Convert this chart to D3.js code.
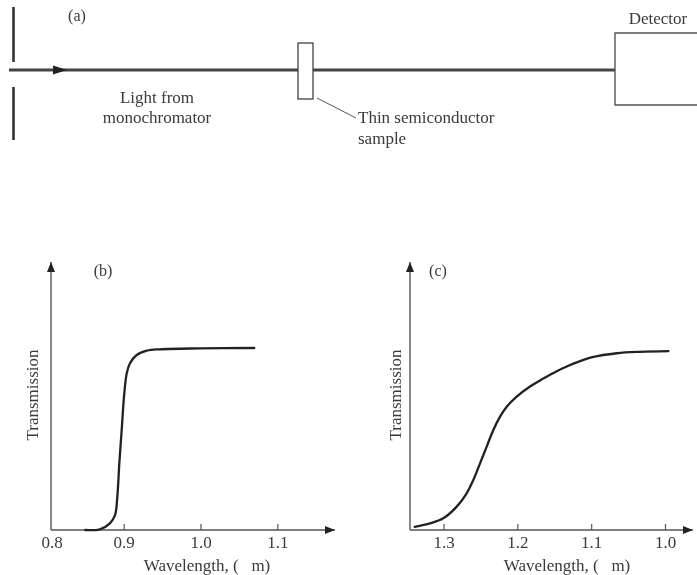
<!DOCTYPE html>
<html>
<head>
<meta charset="utf-8">
<script src="https://cdn.jsdelivr.net/npm/d3@7"></script>
<style>
  html, body { margin: 0; padding: 0; background: #fff; }
  svg { display: block; }
  text { font-family: "Liberation Serif", "DejaVu Serif", serif; fill: #3a3a3a; }
</style>
</head>
<body>
<svg id="fig" width="697" height="575"></svg>
<script>
// Panel (b): sharp absorption edge (wavelength µm, relative transmission)
const edgeB = [
  [0.850, 0.000], [0.869, 0.004], [0.882, 0.037], [0.8887, 0.083],
  [0.8917, 0.185], [0.8943, 0.370], [0.8974, 0.556], [0.9004, 0.741],
  [0.9039, 0.870], [0.9082, 0.926], [0.9169, 0.972], [0.930, 0.996],
  [0.947, 1.004], [1.000, 1.009], [1.070, 1.011]
];
// Panel (c): gradual edge, wavelength axis runs from long to short
const edgeC = [
  [1.339, 0.018], [1.3183, 0.037], [1.3003, 0.065], [1.2821, 0.130],
  [1.2686, 0.204], [1.2596, 0.278], [1.2505, 0.370], [1.2415, 0.463],
  [1.2325, 0.556], [1.2234, 0.630], [1.2144, 0.685], [1.2008, 0.741],
  [1.1828, 0.797], [1.1648, 0.841], [1.1466, 0.882], [1.1331, 0.908],
  [1.1195, 0.931], [1.0984, 0.960], [1.0653, 0.982], [1.0337, 0.990],
  [0.9954, 0.994]
];
const ticksB = [0.9, 1.0, 1.1];
const ticksC = [1.3, 1.2, 1.1, 1.0];
const originLabelB = "0.8";
const axisTitle = "Wavelength, (\u00a0\u00a0\u00a0m)";
const yTitle = "Transmission";

const svg = d3.select("#fig");
const axisInk = "#555";
const fs = 17;

const defs = svg.append("defs");
defs.append("marker").attr("id", "arr").attr("viewBox", "0 0 10 8")
  .attr("refX", 10).attr("refY", 4).attr("markerWidth", 10).attr("markerHeight", 8)
  .attr("markerUnits", "userSpaceOnUse").attr("orient", "auto")
  .append("path").attr("d", "M0,0 L10,4 L0,8 Z").attr("fill", "#222");

const soft = defs.append("filter").attr("id", "soft");
soft.append("feGaussianBlur").attr("stdDeviation", 0.35);

const root = svg.append("g").attr("filter", "url(#soft)");

// ---------------- (a) apparatus sketch ----------------
const a = root.append("g");
const beamY = 70;
// entrance slit
a.append("line").attr("x1", 13.5).attr("x2", 13.5).attr("y1", 7).attr("y2", 62)
  .attr("stroke", "#333").attr("stroke-width", 2.6);
a.append("line").attr("x1", 13.5).attr("x2", 13.5).attr("y1", 87).attr("y2", 140)
  .attr("stroke", "#333").attr("stroke-width", 2.6);
// light beam
a.append("line").attr("x1", 9).attr("x2", 615).attr("y1", beamY).attr("y2", beamY)
  .attr("stroke", "#444").attr("stroke-width", 2.8);
a.append("path").attr("d", `M53,${beamY - 4.5} L67,${beamY} L53,${beamY + 4.5} Z`).attr("fill", "#222");
// sample slab and its leader
a.append("rect").attr("x", 298).attr("y", 43).attr("width", 15).attr("height", 56)
  .attr("fill", "#fff").attr("stroke", "#444").attr("stroke-width", 1.3);
a.append("line").attr("x1", 317).attr("y1", 98).attr("x2", 356).attr("y2", 118)
  .attr("stroke", "#555").attr("stroke-width", 1);
// detector
a.append("path").attr("d", "M700,33 L615,33 L615,105 L700,105")
  .attr("fill", "none").attr("stroke", "#555").attr("stroke-width", 1.4);

const t = (x, y, s, anchor, size) => root.append("text").attr("x", x).attr("y", y)
  .attr("text-anchor", anchor || "middle").attr("dominant-baseline", "central")
  .attr("font-size", size || fs).text(s);
t(77, 15, "(a)", "middle", 16);
t(157, 97, "Light from");
t(157, 117, "monochromator");
t(358, 117, "Thin semiconductor", "start");
t(358, 138, "sample", "start");
t(658, 18, "Detector");

// ---------------- transmission panels ----------------
function panel(opt) {
  const g = root.append("g");
  const x = d3.scaleLinear().domain(opt.dom).range(opt.rng);
  const y = d3.scaleLinear().domain([0, 1]).range([opt.y0, opt.y0 - 180]);

  // x axis ticks point up into the plot
  const ax = g.append("g").attr("transform", `translate(0,${opt.y0})`)
    .call(d3.axisBottom(x).tickValues(opt.ticks).tickSizeInner(-6).tickSizeOuter(0)
      .tickFormat(d3.format(".1f")));
  ax.select(".domain").remove();
  ax.selectAll(".tick line").attr("stroke", axisInk).attr("stroke-width", 1.2);
  ax.selectAll(".tick text").attr("font-family", "Liberation Serif, serif")
    .attr("font-size", fs).attr("fill", "#3a3a3a").attr("y", 13).attr("dy", "0.32em");

  // axis lines with arrowheads
  g.append("line").attr("x1", opt.ox).attr("y1", opt.y0).attr("x2", opt.xTip).attr("y2", opt.y0)
    .attr("stroke", axisInk).attr("stroke-width", 1.4).attr("marker-end", "url(#arr)");
  g.append("line").attr("x1", opt.ox).attr("y1", opt.y0).attr("x2", opt.ox).attr("y2", 262)
    .attr("stroke", axisInk).attr("stroke-width", 1.4).attr("marker-end", "url(#arr)");

  if (opt.originLabel) {
    g.append("text").attr("x", opt.ox + 1).attr("y", opt.y0 + 13).attr("dy", "0.32em")
      .attr("text-anchor", "middle").attr("font-size", fs).text(opt.originLabel);
  }

  g.append("path").datum(opt.data)
    .attr("d", d3.line().x(d => x(d[0])).y(d => y(d[1])).curve(d3.curveCatmullRom.alpha(0.5)))
    .attr("fill", "none").attr("stroke", "#222").attr("stroke-width", 2.3)
    .attr("stroke-linecap", "round");

  g.append("text").attr("x", opt.tagX).attr("y", 270).attr("dominant-baseline", "central")
    .attr("text-anchor", "middle").attr("font-size", 16).text(opt.tag);
  g.append("text").attr("transform", `translate(${opt.yTitleX},395) rotate(-90)`)
    .attr("text-anchor", "middle").attr("dominant-baseline", "central")
    .attr("font-size", fs).text(yTitle);
  g.append("text").attr("x", opt.titleX).attr("y", 565).attr("dominant-baseline", "central")
    .attr("text-anchor", "middle").attr("font-size", fs).text(axisTitle);
}

panel({
  data: edgeB, ticks: ticksB, dom: [0.9, 1.0], rng: [123.7, 200.5],
  ox: 51, xTip: 335, y0: 530, tag: "(b)", tagX: 103, titleX: 207, yTitleX: 32,
  originLabel: originLabelB
});
panel({
  data: edgeC, ticks: ticksC, dom: [1.3, 1.0], rng: [443.5, 665],
  ox: 410, xTip: 693, y0: 530, tag: "(c)", tagX: 438, titleX: 567, yTitleX: 395
});
</script>
</body>
</html>
